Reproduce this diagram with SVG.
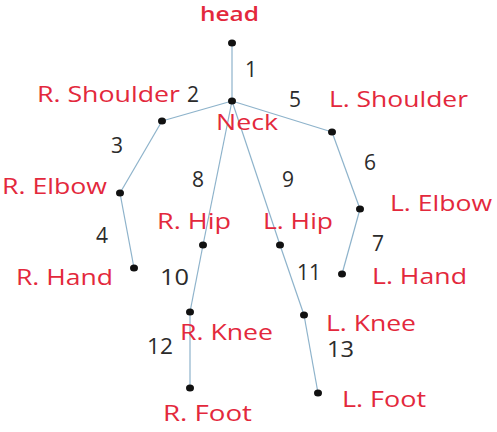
<svg xmlns="http://www.w3.org/2000/svg" width="497" height="432" viewBox="0 0 497 432">
<style>
.lbl{font-family:"Open Sans","Noto Sans","DejaVu Sans",sans-serif;font-size:21px;fill:#e3283c}
.num{font-family:"Open Sans","Noto Sans","DejaVu Sans",sans-serif;font-size:21px;fill:#2b2b2b}
.edge{stroke:#8eb3cb;stroke-width:1.2;fill:none}
.dot{fill:#111}
</style>
<rect width="497" height="432" fill="#fff"/>
<g id="connectors">
<line class="edge" x1="232" y1="43" x2="232" y2="101"/>
<line class="edge" x1="232" y1="101" x2="162" y2="121"/>
<line class="edge" x1="162" y1="121" x2="120" y2="193"/>
<line class="edge" x1="120" y1="193" x2="134" y2="268"/>
<line class="edge" x1="232" y1="101" x2="332" y2="132"/>
<line class="edge" x1="332" y1="132" x2="360" y2="209"/>
<line class="edge" x1="360" y1="209" x2="342" y2="274"/>
<line class="edge" x1="232" y1="101" x2="203" y2="245"/>
<line class="edge" x1="232" y1="101" x2="280" y2="245"/>
<line class="edge" x1="203" y1="245" x2="190" y2="312"/>
<line class="edge" x1="190" y1="312" x2="190" y2="388"/>
<line class="edge" x1="280" y1="245" x2="304" y2="315"/>
<line class="edge" x1="304" y1="315" x2="318" y2="393"/>
<text class="num" x="245" y="77">1</text>
<text class="num" x="187" y="102">2</text>
<text class="num" x="111" y="153">3</text>
<text class="num" x="96" y="243">4</text>
<text class="num" x="289" y="107">5</text>
<text class="num" x="364" y="170">6</text>
<text class="num" x="372" y="251">7</text>
<text class="num" x="192" y="187">8</text>
<text class="num" x="282" y="187">9</text>
<text class="num" x="160" y="285" textLength="29" lengthAdjust="spacingAndGlyphs">10</text>
<text class="num" x="297" y="280" textLength="24" lengthAdjust="spacingAndGlyphs">11</text>
<text class="num" x="147" y="354" textLength="26" lengthAdjust="spacingAndGlyphs">12</text>
<text class="num" x="327" y="357" textLength="27" lengthAdjust="spacingAndGlyphs">13</text>
</g>
<g id="head"><ellipse class="dot" cx="232" cy="43" rx="4" ry="3.5"/><text class="lbl" x="200" y="21" textLength="59" lengthAdjust="spacingAndGlyphs" font-weight="600" style="font-size:19.5px">head</text></g>
<g id="neck"><ellipse class="dot" cx="232" cy="101" rx="4" ry="3.5"/><text class="lbl" x="216" y="130" textLength="62" lengthAdjust="spacingAndGlyphs">Neck</text></g>
<g id="r-shoulder"><ellipse class="dot" cx="162" cy="121" rx="4" ry="3.5"/><text class="lbl" x="37" y="102" textLength="143" lengthAdjust="spacingAndGlyphs">R. Shoulder</text></g>
<g id="l-shoulder"><ellipse class="dot" cx="332" cy="132" rx="4" ry="3.5"/><text class="lbl" x="329" y="107" textLength="139" lengthAdjust="spacingAndGlyphs">L. Shoulder</text></g>
<g id="r-elbow"><ellipse class="dot" cx="120" cy="193" rx="4" ry="3.5"/><text class="lbl" x="2" y="194" textLength="105" lengthAdjust="spacingAndGlyphs">R. Elbow</text></g>
<g id="l-elbow"><ellipse class="dot" cx="360" cy="209" rx="4" ry="3.5"/><text class="lbl" x="390" y="211" textLength="102" lengthAdjust="spacingAndGlyphs">L. Elbow</text></g>
<g id="r-hand"><ellipse class="dot" cx="134" cy="268" rx="4" ry="3.5"/><text class="lbl" x="16" y="285" textLength="97" lengthAdjust="spacingAndGlyphs">R. Hand</text></g>
<g id="l-hand"><ellipse class="dot" cx="342" cy="274" rx="4" ry="3.5"/><text class="lbl" x="372" y="284" textLength="95" lengthAdjust="spacingAndGlyphs">L. Hand</text></g>
<g id="r-hip"><ellipse class="dot" cx="203" cy="245" rx="4" ry="3.5"/><text class="lbl" x="157" y="229" textLength="74" lengthAdjust="spacingAndGlyphs">R. Hip</text></g>
<g id="l-hip"><ellipse class="dot" cx="280" cy="245" rx="4" ry="3.5"/><text class="lbl" x="263" y="229" textLength="70" lengthAdjust="spacingAndGlyphs">L. Hip</text></g>
<g id="r-knee"><ellipse class="dot" cx="190" cy="312" rx="4" ry="3.5"/><text class="lbl" x="180" y="340" textLength="93" lengthAdjust="spacingAndGlyphs">R. Knee</text></g>
<g id="l-knee"><ellipse class="dot" cx="304" cy="315" rx="4" ry="3.5"/><text class="lbl" x="326" y="331" textLength="90" lengthAdjust="spacingAndGlyphs">L. Knee</text></g>
<g id="r-foot"><ellipse class="dot" cx="190" cy="388" rx="4" ry="3.5"/><text class="lbl" x="163" y="421" textLength="89" lengthAdjust="spacingAndGlyphs">R. Foot</text></g>
<g id="l-foot"><ellipse class="dot" cx="318" cy="393" rx="4" ry="3.5"/><text class="lbl" x="342" y="407" textLength="84" lengthAdjust="spacingAndGlyphs">L. Foot</text></g>
</svg>
